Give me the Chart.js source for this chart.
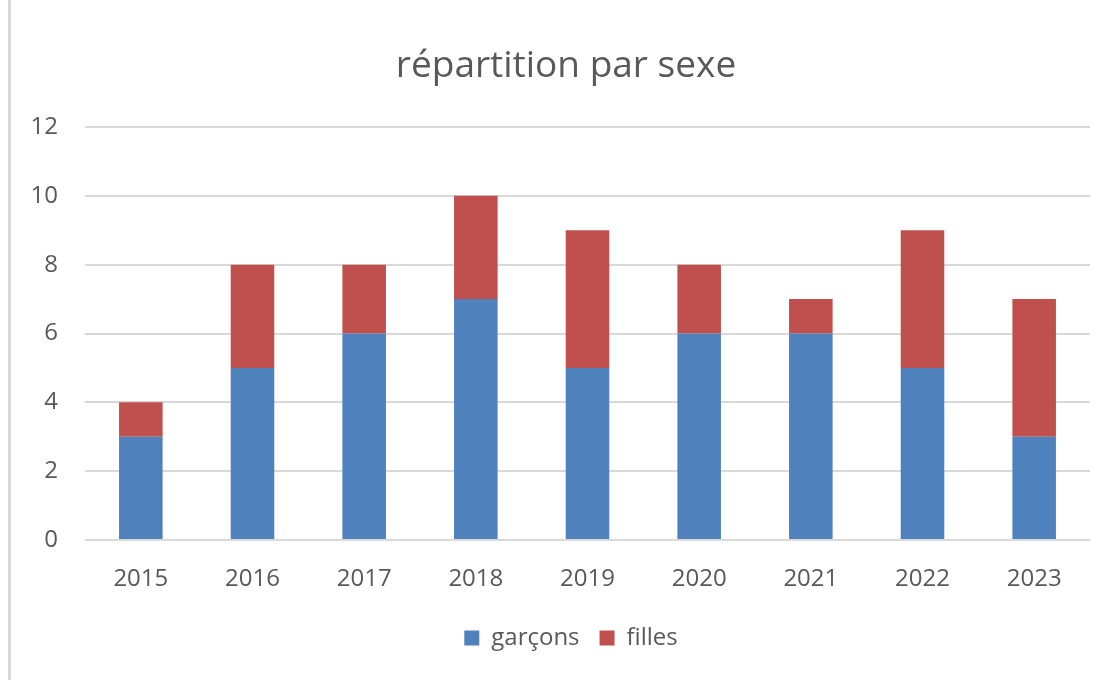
<!DOCTYPE html>
<html>
<head>
<meta charset="utf-8">
<script src="https://cdn.jsdelivr.net/npm/chart.js@4/dist/chart.umd.min.js"></script>
<style>
html,body{margin:0;padding:0;background:#fff;}
#wrap{position:relative;width:1113px;height:680px;}
#edge{position:absolute;left:8px;top:0;width:3px;height:680px;background:#d9d9d9;}
canvas{position:absolute;left:0;top:0;}
</style>
</head>
<body>
<div id="wrap">
<div id="edge"></div>
<canvas id="c" width="1113" height="680"></canvas>
</div>
<script>
const categories = ['2015','2016','2017','2018','2019','2020','2021','2022','2023'];
const garcons = [3,5,6,7,5,6,6,5,3];
const filles = [1,3,2,3,4,2,1,4,4];
const seriesNames = ['garçons','filles'];
const titleText = 'répartition par sexe';

const FONT = '"Open Sans", sans-serif';
const TXT = '#595959';

// nudge title and legend horizontally to match the reference centering
const shiftBoxes = {
  id: 'shiftBoxes',
  afterLayout(chart) {
    if (chart.titleBlock) { chart.titleBlock.left += 7; chart.titleBlock.right += 7; }
    if (chart.legend) { chart.legend.left += 12; chart.legend.right += 12; }
  }
};

new Chart(document.getElementById('c'), {
  type: 'bar',
  data: {
    labels: categories,
    datasets: [
      {label: seriesNames[0], data: garcons, backgroundColor: '#4f81bd', barPercentage: 0.39, categoryPercentage: 1},
      {label: seriesNames[1], data: filles, backgroundColor: '#c0504d', barPercentage: 0.39, categoryPercentage: 1}
    ]
  },
  plugins: [shiftBoxes],
  options: {
    responsive: false,
    animation: false,
    layout: {padding: {left: 28, right: 23, top: 0, bottom: 20}},
    plugins: {
      tooltip: {enabled: false},
      title: {
        display: true, text: titleText, color: TXT,
        font: {family: FONT, size: 37, weight: 'normal'},
        padding: {top: 44, bottom: 38.6}
      },
      legend: {
        position: 'bottom',
        labels: {
          color: TXT, boxWidth: 15, boxHeight: 15, padding: 20,
          font: {family: FONT, size: 24}
        }
      }
    },
    scales: {
      x: {
        stacked: true,
        grid: {display: false},
        border: {display: false},
        ticks: {color: TXT, font: {family: FONT, size: 24}, padding: 17},
        afterFit: (s) => { s.height = 66; }
      },
      y: {
        stacked: true, min: 0, max: 12,
        grid: {color: '#d9d9d9', lineWidth: 2, drawTicks: false},
        border: {display: false},
        ticks: {stepSize: 2, color: TXT, font: {family: FONT, size: 24}, padding: 27},
        afterFit: (s) => { s.width = 57; }
      }
    }
  }
});
</script>
</body>
</html>
